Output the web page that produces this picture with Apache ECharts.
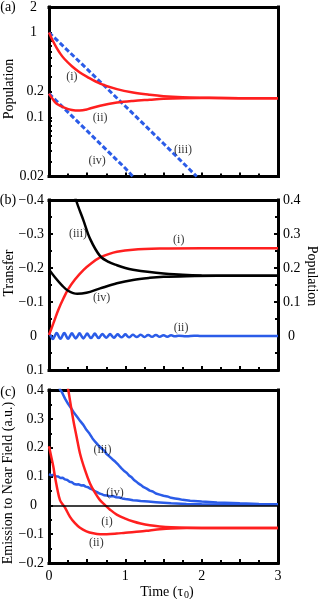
<!DOCTYPE html>
<html><head><meta charset="utf-8">
<script src="https://cdn.jsdelivr.net/npm/echarts@6/dist/echarts.min.js"></script>
<style>html,body{margin:0;padding:0;background:#fff}#c{width:319px;height:599px}</style>
</head><body><div id="c"></div>
<script>
const FONT = 'Liberation Serif';
const RED = '#ff1f1f', BLUE = '#2b5ce8', BLACK = '#000';

// ---- shared x axis ----
const xTickLabels = [0, 1, 2, 3];

// ---- Panel (a): Population (log scale) ----
const aLogLabels = [0.02, 0.1, 0.2, 1, 2];
const aLogTicks = [0.02,0.03,0.04,0.05,0.06,0.07,0.08,0.09,0.1,0.2,0.3,0.4,0.5,0.6,0.7,0.8,0.9,1,2];
const aCurveI   = [[0,1.0],[0.05,0.80],[0.1,0.66],[0.15,0.56],[0.2,0.49],[0.3,0.40],[0.4,0.34],[0.5,0.30],[0.67,0.25],[0.89,0.215],[1.1,0.196],[1.32,0.184],[1.5,0.177],[1.75,0.172],[2.0,0.170],[2.5,0.168],[3,0.168]];
const aCurveII  = [[0,0.19],[0.05,0.163],[0.1,0.144],[0.2,0.13],[0.3,0.122],[0.4,0.12],[0.5,0.124],[0.67,0.137],[0.89,0.149],[1.1,0.156],[1.32,0.161],[1.5,0.165],[1.75,0.168],[2.0,0.169],[2.5,0.168],[3,0.168]];
const aCurveIII = [[0,1.0],[0.5,0.37],[1.0,0.135],[1.5,0.049],[1.935,0.02]];
const aCurveIV  = [[0,0.19],[0.5,0.069],[1.0,0.025],[1.1,0.02]];
const aLabels   = [[0.30,0.30,'(i)'],[0.67,0.099,'(ii)'],[1.755,0.041,'(iii)'],[0.63,0.031,'(iv)']];

// ---- Panel (b): Transfer (left, inverted) / Population (right) ----
const bTransferI  = [[0,-0.003],[0.057,-0.037],[0.12,-0.076],[0.19,-0.111],[0.25,-0.137],[0.34,-0.166],[0.45,-0.194],[0.56,-0.215],[0.67,-0.231],[0.78,-0.241],[0.89,-0.248],[1.1,-0.254],[1.45,-0.257],[2,-0.258],[3,-0.258]];
const bTransferII = [[0,-0.010],[0.025,0],[0.05,0.009],[0.075,0],[0.1,-0.009],[0.125,0],[0.15,0.008],[0.175,0],[0.2,-0.009],[0.225,0],[0.25,0.008],[0.275,0],[0.3,-0.008],[0.325,0],[0.35,0.007],[0.375,0],[0.4,-0.008],[0.425,0],[0.45,0.007],[0.475,0],[0.5,-0.007],[0.525,0],[0.55,0.006],[0.575,0],[0.6,-0.007],[0.625,0],[0.65,0.006],[0.675,0],[0.7,-0.006],[0.725,0],[0.75,0.005],[0.775,0],[0.8,-0.006],[0.825,0],[0.85,0.005],[0.875,0],[0.9,-0.005],[0.925,0],[0.95,0.004],[0.975,0],[1.0,-0.005],[1.025,0],[1.05,0.004],[1.075,0],[1.1,-0.004],[1.125,0],[1.15,0.003],[1.175,0],[1.2,-0.004],[1.25,0.003],[1.3,-0.003],[1.35,0.002],[1.4,-0.003],[1.45,0.002],[1.5,-0.002],[1.55,0.002],[1.6,-0.002],[1.65,0.001],[1.7,-0.001],[1.8,0.001],[1.9,-0.001],[2.0,0],[3.0,0]];
const bPopIII = [[0.25,0.5],[0.3,0.45],[0.354,0.4],[0.45,0.341],[0.54,0.285],[0.67,0.235],[0.78,0.218],[0.89,0.208],[1.0,0.200],[1.1,0.195],[1.32,0.188],[1.5,0.184],[1.75,0.180],[2.0,0.178],[2.5,0.177],[3,0.177]];
const bPopIV  = [[0,0.196],[0.08,0.172],[0.17,0.149],[0.25,0.133],[0.37,0.124],[0.49,0.127],[0.67,0.14],[0.89,0.155],[1.1,0.165],[1.32,0.171],[1.5,0.174],[1.8,0.176],[2.2,0.177],[3,0.177]];
const bLabels = [[1.70,0.282,'(i)'],[1.73,0.024,'(ii)'],[0.38,0.30,'(iii)'],[0.69,0.112,'(iv)']];

// ---- Panel (c): Emission to Near Field ----
const cCurveI   = [[0.15,0.58],[0.2,0.49],[0.253,0.40],[0.318,0.296],[0.36,0.24],[0.406,0.18],[0.472,0.122],[0.537,0.076],[0.6,0.045],[0.668,0.018],[0.734,0.001],[0.8,-0.015],[0.887,-0.032],[1.0,-0.046],[1.105,-0.056],[1.2,-0.063],[1.32,-0.069],[1.45,-0.073],[1.6,-0.076],[1.8,-0.078],[2.2,-0.079],[3,-0.079]];
const cCurveII  = [[0,0.205],[0.03,0.168],[0.057,0.134],[0.079,0.098],[0.11,0.055],[0.144,0.018],[0.18,0.003],[0.21,-0.008],[0.275,-0.04],[0.34,-0.062],[0.406,-0.078],[0.49,-0.09],[0.58,-0.097],[0.67,-0.1],[0.756,-0.1],[0.887,-0.098],[1.0,-0.095],[1.19,-0.091],[1.32,-0.087],[1.45,-0.083],[1.6,-0.08],[1.8,-0.079],[2.2,-0.079],[3,-0.079]];
const cCurveIII = [[0.08,0.47],[0.12,0.425],[0.144,0.402],[0.17,0.392],[0.19,0.381],[0.21,0.370],[0.23,0.366],[0.25,0.352],[0.27,0.347],[0.29,0.337],[0.31,0.333],[0.33,0.320],[0.35,0.318],[0.37,0.306],[0.39,0.302],[0.41,0.292],[0.43,0.289],[0.45,0.279],[0.47,0.274],[0.49,0.262],[0.51,0.259],[0.53,0.249],[0.55,0.243],[0.57,0.232],[0.59,0.228],[0.61,0.219],[0.63,0.216],[0.65,0.207],[0.67,0.203],[0.69,0.197],[0.71,0.192],[0.73,0.188],[0.75,0.179],[0.77,0.177],[0.79,0.170],[0.81,0.168],[0.83,0.160],[0.85,0.156],[0.87,0.151],[0.89,0.146],[0.91,0.140],[0.93,0.136],[0.95,0.128],[0.97,0.125],[0.99,0.118],[1.02,0.112],[1.05,0.103],[1.08,0.098],[1.11,0.089],[1.14,0.083],[1.17,0.076],[1.2,0.071],[1.24,0.063],[1.28,0.058],[1.32,0.051],[1.36,0.048],[1.40,0.041],[1.45,0.037],[1.5,0.033],[1.55,0.031],[1.6,0.026],[1.65,0.024],[1.7,0.022],[1.75,0.019],[1.85,0.016],[2.0,0.013],[2.2,0.010],[2.5,0.007],[2.75,0.005],[3,0.004]];
const cCurveIV  = [[0,0.108],[0.03,0.104],[0.06,0.106],[0.09,0.101],[0.12,0.100],[0.15,0.095],[0.18,0.096],[0.21,0.090],[0.24,0.088],[0.27,0.082],[0.30,0.080],[0.33,0.074],[0.36,0.072],[0.39,0.073],[0.42,0.069],[0.45,0.070],[0.48,0.065],[0.51,0.063],[0.54,0.058],[0.57,0.055],[0.60,0.049],[0.63,0.046],[0.66,0.041],[0.69,0.039],[0.72,0.035],[0.76,0.034],[0.8,0.031],[0.84,0.032],[0.88,0.028],[0.92,0.027],[0.96,0.024],[1.0,0.022],[1.05,0.020],[1.1,0.018],[1.15,0.017],[1.2,0.015],[1.3,0.013],[1.4,0.011],[1.5,0.009],[1.6,0.007],[1.8,0.005],[2.0,0.004],[2.4,0.003],[3,0.002]];
const cLabels = [[0.76,-0.058,'(i)'],[0.62,-0.131,'(ii)'],[0.70,0.192,'(iii)'],[0.865,0.043,'(iv)']];

const chart = echarts.init(document.getElementById('c'), null, {renderer:'canvas'});

const grids = [
  {left:49, top:5, width:229, height:171.5},
  {left:49, top:200, width:229, height:170},
  {left:49, top:390, width:229, height:173}
];

function num(v){ return String(Math.round(v*1000)/1000); }
function signed(v){ return v < 0 ? '\u2212' + num(-v) : num(v); }
const labelText = {fontFamily:FONT, fontSize:14, color:BLACK};
const frameLine = {show:true, onZero:false, lineStyle:{color:BLACK, width:3, cap:'square'}};
const tickStyle = {show:true, inside:true, length:4, lineStyle:{color:BLACK, width:2}};
const minorStyle = {show:true, splitNumber:2, length:3, lineStyle:{color:BLACK, width:2}};

function xAxisFor(i, showLabels){
  return {
    type:'value', gridIndex:i, min:0, max:3, interval:0.5, position:'bottom',
    axisLine:frameLine, axisTick:tickStyle, minorTick:minorStyle, splitLine:{show:false},
    axisLabel:{show:showLabels, margin:6, ...labelText, customValues: xTickLabels, formatter: v => num(v)}
  };
}
function frameAxis(kind, i, pos){
  return {type:'value', gridIndex:i, position:pos, min:0, max:1, axisLine:frameLine,
    axisTick:{show:false}, axisLabel:{show:false}, splitLine:{show:false}, minorTick:{show:false}};
}

const leftRich = {z:{fontFamily:FONT, fontSize:14, color:BLACK, padding:[0,7,0,0]}};

const option = {
  animation:false,
  backgroundColor:'#fff',
  grid: grids,
  xAxis: [xAxisFor(0,false), xAxisFor(1,false), xAxisFor(2,true),
          frameAxis('x',0,'top'), frameAxis('x',1,'top'), frameAxis('x',2,'top')],
  yAxis: [
    { type:'log', logBase:10, gridIndex:0, min:0.02, max:2, position:'left',
      axisLine:frameLine, splitLine:{show:false},
      axisTick:{show:true, inside:true, length:3, lineStyle:{color:BLACK, width:2}, customValues:aLogTicks},
      axisLabel:{margin:5, ...labelText, customValues:aLogLabels, rich:leftRich,
        formatter: v => { const s = num(v); return (v >= 1) ? '{z|' + s + '}' : s; }}
    },
    { type:'value', gridIndex:1, inverse:true, min:-0.4, max:0.1, interval:0.1, position:'left',
      axisLine:frameLine, splitLine:{show:false}, axisTick:tickStyle, minorTick:minorStyle,
      axisLabel:{margin:5, ...labelText, rich:leftRich,
        formatter: v => Math.abs(v) < 1e-9 ? '{z|0}' : signed(v)}
    },
    { type:'value', gridIndex:1, position:'right', min:-0.1, max:0.4, interval:0.1,
      axisLine:frameLine, splitLine:{show:false}, axisTick:tickStyle, minorTick:minorStyle,
      axisLabel:{margin:5, ...labelText,
        rich:{z:{fontFamily:FONT, fontSize:14, color:BLACK, padding:[0,0,0,5]}},
        formatter: v => v < -1e-9 ? '' : (Math.abs(v) < 1e-9 ? '{z|0}' : num(v))}
    },
    { type:'value', gridIndex:2, min:-0.2, max:0.4, interval:0.1, position:'left',
      axisLine:frameLine, splitLine:{show:false}, axisTick:tickStyle, minorTick:minorStyle,
      axisLabel:{margin:5, ...labelText, rich:leftRich,
        formatter: v => Math.abs(v) < 1e-9 ? '{z|0}' : signed(v)}
    },
    frameAxis('y',0,'right'), frameAxis('y',2,'right')
  ],
  series: [],
  graphic: []
};

function line(xi, yi, data, color, width, extra){
  return Object.assign({type:'line', xAxisIndex:xi, yAxisIndex:yi, data:data, showSymbol:false, symbol:'none',
    smooth:0.35, clip:true, lineStyle:{color:color, width:width}, z:3, silent:true}, extra||{});
}
function labels(xi, yi, data){
  return {type:'scatter', xAxisIndex:xi, yAxisIndex:yi, data:data, symbolSize:1, itemStyle:{color:'transparent'}, z:10, silent:true,
    label:{show:true, position:'inside', formatter:p => p.value[2], fontFamily:FONT, fontSize:12, color:BLACK}};
}

const dash = {lineStyle:{color:BLUE, width:3, type:[5,2.5]}, smooth:false};
option.series.push(
  line(0,0,aCurveIII,BLUE,3,dash),
  line(0,0,aCurveIV,BLUE,3,dash),
  line(0,0,aCurveI,RED,2.5),
  line(0,0,aCurveII,RED,2.5),
  labels(0,0,aLabels),

  line(1,1,bTransferII,BLUE,2.5,{smooth:0.5}),
  line(1,1,bTransferI,RED,2.5),
  line(1,2,bPopIII,BLACK,2.5),
  line(1,2,bPopIV,BLACK,2.5),
  labels(1,2,bLabels),

  line(2,3,cCurveIII,BLUE,2.5,{smooth:false}),
  line(2,3,cCurveIV,BLUE,2.5,{smooth:false}),
  line(2,3,cCurveI,RED,2.5),
  line(2,3,cCurveII,RED,2.5,{markLine:{silent:true, symbol:['none','none'], label:{show:false},
      lineStyle:{color:BLACK, width:1.5, type:'solid'}, data:[{yAxis:0}]}}),
  labels(2,3,cLabels)
);

function txt(t, x, y, rot, size){
  return {type:'text', x:x, y:y, rotation:rot||0, z:20, silent:true,
    style:{text:t, x:0, y:0, align:'center', verticalAlign:'middle', fontFamily:FONT, fontSize:size||14, fill:BLACK}};
}
option.graphic = [
  txt('(a)', 8, 7), txt('(b)', 8, 200), txt('(c)', 8, 392),
  txt('Population', 9, 89, Math.PI/2),
  txt('Transfer', 9, 273, Math.PI/2),
  txt('Emission to Near Field (a.u.)', 8, 483, Math.PI/2),
  txt('Population', 312, 276, -Math.PI/2),
  {type:'text', x:167, y:592, z:20, silent:true,
   style:{text:'{m|Time (\u03c4}{s|0}{m|)}', x:0, y:0, align:'center', verticalAlign:'middle',
     rich:{m:{fontFamily:FONT, fontSize:14, fill:BLACK, color:BLACK},
           s:{fontFamily:FONT, fontSize:10, fill:BLACK, color:BLACK, padding:[7,0,0,1]}}}}
];

chart.setOption(option);
</script></body></html>
